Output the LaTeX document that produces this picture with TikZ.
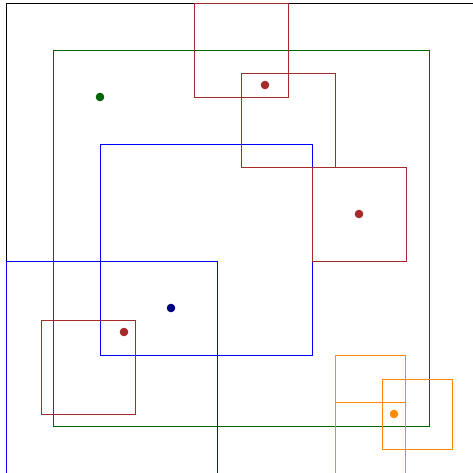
\documentclass[tikz,border=0pt]{standalone}
\definecolor{dkgreen}{RGB}{0,100,0}
\definecolor{brownred}{RGB}{165,42,42}
\definecolor{navyc}{RGB}{0,0,128}
\definecolor{orangec}{RGB}{255,140,0}
\begin{document}
\begin{tikzpicture}[x=1pt,y=-1pt,line width=0.9pt,
  boxb/.style={draw=black},
  boxg/.style={draw=dkgreen},
  boxu/.style={draw=blue},
  boxr/.style={draw=brownred},
  boxo/.style={draw=orangec},
  dotg/.style={fill=dkgreen},
  dotr/.style={fill=brownred},
  dotn/.style={fill=navyc},
  doto/.style={fill=orangec}]
\useasboundingbox (0,0) rectangle (473,472);
\clip (0,0) rectangle (473,472);
% outer
\draw[boxb] (6.5,3) rectangle (520,520);
% green
\draw[boxg] (53.5,50) rectangle (429,426);
\fill[dotg] (100,97) circle (4.3);
% blue
\draw[boxu] (100,144) rectangle (312,355);
\fill[dotn] (171,308) circle (4.3);
\draw[boxu] (6.5,261.5) rectangle (217,520);
% brown
\draw[boxr] (194,3) rectangle (288,97);
\draw[boxr] (241,73) rectangle (335,167);
\draw[boxr] (312,167) rectangle (406,261);
\draw[boxr] (41,320) rectangle (135,414);
\fill[dotr] (265,85) circle (4.3);
\fill[dotr] (359,214) circle (4.3);
\fill[dotr] (124,332) circle (4.3);
% orange
\draw[boxo] (335.5,355.5) rectangle (405.7,520);
\draw[boxo] (335.5,402.3) rectangle (405.7,520);
\draw[boxo] (382.3,379.3) rectangle (452.7,449.3);
\fill[doto] (394,414) circle (4.3);
\end{tikzpicture}
\end{document}
